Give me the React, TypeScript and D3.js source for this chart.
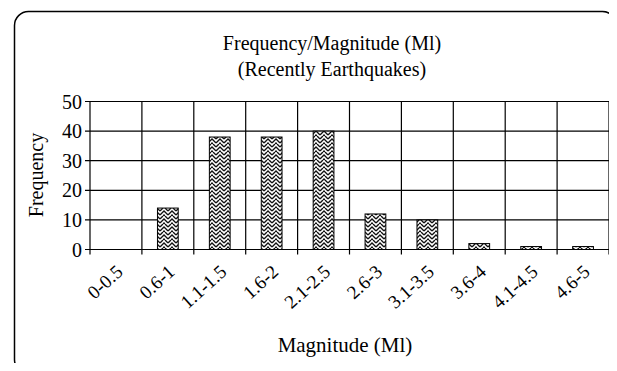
import React, { useEffect, useRef } from 'react';
import * as d3 from 'd3';

// chart data
const categories = ['0-0.5', '0.6-1', '1.1-1.5', '1.6-2', '2.1-2.5', '2.6-3', '3.1-3.5', '3.6-4', '4.1-4.5', '4.6-5'];
const frequency = [0, 14, 38, 38, 40, 12, 10, 2, 1, 1];
const yTicks = [0, 10, 20, 30, 40, 50];
const titleLines = ['Frequency/Magnitude (Ml)', '(Recently Earthquakes)'];

const W = 617, H = 371;
const margin = { left: 90, right: 8, top: 101.5, bottom: 121.5 };
const FONT = '"Liberation Serif", "Times New Roman", serif';

export default function App() {
    const ref = useRef<SVGSVGElement>(null);

    useEffect(() => {
        const svg = d3.select(ref.current);
        svg.selectAll('*').remove();

        // weave-like fill
        const defs = svg.append('defs');
        const pat = defs.append('pattern')
            .attr('id', 'weave')
            .attr('patternUnits', 'userSpaceOnUse')
            .attr('width', 8).attr('height', 8);
        pat.append('rect').attr('width', 8).attr('height', 8).attr('fill', '#fff');
        pat.append('path')
            .attr('d', 'M0,3 L3,0 M0,7 L4,3 L8,7 M5,0 L8,3 M3,8 L4,7 L5,8 M1,1 L2,2 M6,1 L7,2')
            .attr('stroke', '#111').attr('stroke-width', 1.3).attr('fill', 'none');

        // border
        svg.append('rect')
            .attr('x', 14.5).attr('y', 11.5)
            .attr('width', 602).attr('height', 362)
            .attr('rx', 14)
            .attr('fill', 'none').attr('stroke', '#000').attr('stroke-width', 1.5);

        const x = d3.scaleBand<string>()
            .domain(categories)
            .range([margin.left, W - margin.right])
            .paddingInner(0.6).paddingOuter(0.3);
        const step = x.step();
        const x0 = margin.left;
        const y = d3.scaleLinear().domain([0, 50]).range([H - margin.bottom, margin.top]);

        const g = svg.append('g');

        // horizontal grid
        g.selectAll('line.hgrid').data(yTicks).enter().append('line')
            .attr('x1', x0 - 5).attr('x2', W - margin.right)
            .attr('y1', d => y(d)).attr('y2', d => y(d))
            .attr('stroke', '#000').attr('stroke-width', 1.2);

        // vertical grid
        const bounds = d3.range(categories.length + 1);
        g.selectAll('line.vgrid').data(bounds).enter().append('line')
            .attr('x1', i => x0 + i * step).attr('x2', i => x0 + i * step)
            .attr('y1', y(50)).attr('y2', y(0) + 5)
            .attr('stroke', '#000').attr('stroke-width', 1.2);

        // bars
        g.selectAll('rect.bar').data(frequency).enter().append('rect')
            .attr('x', (d, i) => x(categories[i])!)
            .attr('width', x.bandwidth())
            .attr('y', d => y(d))
            .attr('height', d => y(0) - y(d))
            .attr('fill', 'url(#weave)')
            .attr('stroke', '#000').attr('stroke-width', 1)
            .style('display', d => d > 0 ? null : 'none');

        // y tick labels
        g.selectAll('text.ytick').data(yTicks).enter().append('text')
            .attr('x', x0 - 8).attr('y', d => y(d))
            .attr('dy', '0.35em')
            .attr('text-anchor', 'end')
            .style('font', `20px ${FONT}`)
            .text(d => d);

        // x tick labels
        g.selectAll('text.xtick').data(categories).enter().append('text')
            .attr('transform', d => `translate(${x(d)! + x.bandwidth() / 2 + 8},${y(0) + 24}) rotate(-42)`)
            .attr('text-anchor', 'end')
            .style('font', `19px ${FONT}`)
            .text(d => d);

        // titles
        svg.selectAll('text.title').data(titleLines).enter().append('text')
            .attr('x', 332).attr('y', (d, i) => 50 + i * 26)
            .attr('text-anchor', 'middle')
            .style('font', `20px ${FONT}`)
            .text(d => d);

        svg.append('text')
            .attr('transform', `translate(43,175) rotate(-90)`)
            .attr('text-anchor', 'middle')
            .style('font', `20px ${FONT}`)
            .text('Frequency');

        svg.append('text')
            .attr('x', 345).attr('y', 352)
            .attr('text-anchor', 'middle')
            .style('font', `21px ${FONT}`)
            .text('Magnitude (Ml)');
    }, []);

    return (
        <div style={{ margin: -8 }}>
            <svg ref={ref} width={W} height={H} style={{ display: 'block', background: '#fff' }} />
        </div>
    );
}
